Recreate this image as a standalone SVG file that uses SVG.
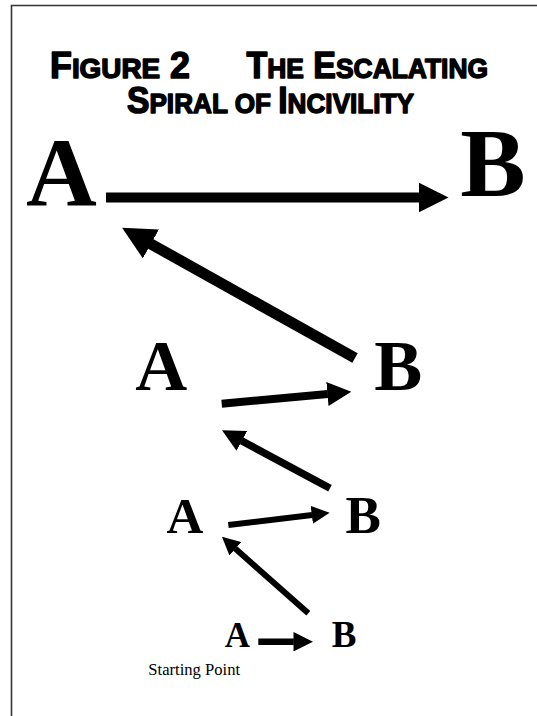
<svg xmlns="http://www.w3.org/2000/svg" width="537" height="716" viewBox="0 0 537 716">
<style>
.frame{stroke:#333;stroke-width:1.6;fill:none}
.title{font-family:"Liberation Sans",Arial,sans-serif;font-weight:bold;fill:#000;stroke:#000;stroke-width:1.5;stroke-linejoin:round}
.big{font-size:36px}
.sc{font-size:28px}
.letter{font-family:"Liberation Serif","Times New Roman",serif;font-weight:bold;fill:#000;text-anchor:middle}
.cap{font-family:"Liberation Serif","Times New Roman",serif;font-size:16.6px;fill:#000}
.arrow{stroke:#000;fill:none;stroke-linecap:butt;marker-end:url(#head)}
</style>
<defs>
<marker id="head" viewBox="0 0 3 3" refX="0.05" refY="1.5" markerWidth="3" markerHeight="3" markerUnits="strokeWidth" orient="auto">
<path d="M0,0 L3,1.5 L0,3 z" fill="#000"/>
</marker>
</defs>
<rect width="537" height="716" fill="#fff"/>
<path class="frame" d="M11.5,716 V5.5 H537"/>
<g id="title">
<text class="title"><tspan x="50" y="78" textLength="140" lengthAdjust="spacingAndGlyphs"><tspan class="big">F</tspan><tspan class="sc">IGURE</tspan><tspan class="big"> 2</tspan></tspan><tspan x="246.5" y="78" textLength="241.5" lengthAdjust="spacingAndGlyphs"><tspan class="big">T</tspan><tspan class="sc">HE</tspan><tspan class="big"> E</tspan><tspan class="sc">SCALATING</tspan></tspan><tspan x="127" y="113" textLength="287" lengthAdjust="spacingAndGlyphs"><tspan class="big">S</tspan><tspan class="sc">PIRAL OF </tspan><tspan class="big">I</tspan><tspan class="sc">NCIVILITY</tspan></tspan></text>
</g>
<g id="a1"><text class="letter" x="61.5" y="205" font-size="98">A</text></g>
<g id="b1"><text class="letter" x="493" y="196" font-size="98">B</text></g>
<g id="a2"><text class="letter" x="161.3" y="390" font-size="72">A</text></g>
<g id="b2"><text class="letter" x="398.3" y="390" font-size="72">B</text></g>
<g id="a3"><text class="letter" x="185" y="533.3" font-size="51">A</text></g>
<g id="b3"><text class="letter" x="363.3" y="533.3" font-size="53">B</text></g>
<g id="a4"><text class="letter" x="237.5" y="647" font-size="35">A</text></g>
<g id="b4"><text class="letter" x="344" y="647" font-size="37">B</text></g>
<g id="start"><text class="cap" x="148.3" y="675">Starting Point</text></g>
<g id="connectors">
<line class="arrow" x1="106" y1="197.5" x2="419" y2="197.5" stroke-width="10"/>
<line class="arrow" x1="355" y1="358" x2="150.4" y2="243.7" stroke-width="11"/>
<line class="arrow" x1="221.7" y1="403.7" x2="327.8" y2="393.9" stroke-width="8"/>
<line class="arrow" x1="330" y1="488.3" x2="241.5" y2="440.7" stroke-width="7.5"/>
<line class="arrow" x1="228.3" y1="525" x2="312.1" y2="514.9" stroke-width="6"/>
<line class="arrow" x1="308.3" y1="613.3" x2="235.2" y2="548.6" stroke-width="6"/>
<line class="arrow" x1="258.3" y1="641.7" x2="293.8" y2="641.7" stroke-width="6.5"/>
</g>
</svg>
